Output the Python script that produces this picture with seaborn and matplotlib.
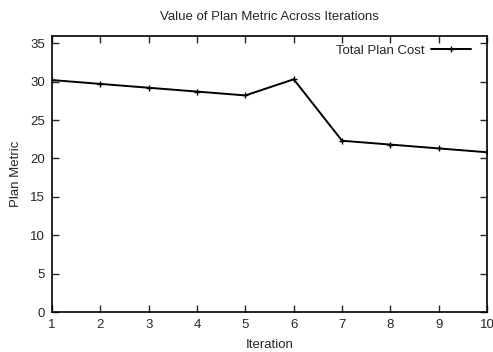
import numpy as np
import pandas as pd
import matplotlib.pyplot as plt
import seaborn as sns

iterations = [1, 2, 3, 4, 5, 6, 7, 8, 9, 10]
plan_cost = [30.2, 29.7, 29.2, 28.7, 28.2, 30.3, 22.3, 21.8, 21.3, 20.8]

df = pd.DataFrame({'Iteration': iterations, 'Total Plan Cost': plan_cost})

sns.set_style('ticks')
plt.rcParams['font.family'] = ['Liberation Sans', 'DejaVu Sans']

fig = plt.figure(figsize=(4.93, 3.52), dpi=100)
ax = fig.add_axes([0.1055, 0.1136, 0.8825, 0.7855])

sns.lineplot(data=df, x='Iteration', y='Total Plan Cost', ax=ax, color='black',
             linewidth=1.4, marker='+', markersize=5, markeredgewidth=1.0,
             markeredgecolor='black', label='Total Plan Cost')

ax.set_xlim(1, 10)
ax.set_ylim(0, 36)
ax.set_xticks(iterations)
ax.set_yticks(range(0, 36, 5))
ax.tick_params(direction='in', top=True, right=True, length=5, width=1,
               labelsize=9.5, pad=5)
for s in ax.spines.values():
    s.set_linewidth(1.2)
    s.set_color('black')

ax.set_title('Value of Plan Metric Across Iterations', fontsize=9.5, pad=11)
ax.set_xlabel('Iteration', fontsize=9.5, labelpad=6)
ax.set_ylabel('Plan Metric', fontsize=9.5, labelpad=6)

leg = ax.legend(loc='upper right', frameon=False, fontsize=9.5, markerfirst=False,
                handlelength=3.0, borderaxespad=0.3, handletextpad=0.5,
                borderpad=0.4, bbox_to_anchor=(0.984, 1.0))

plt.savefig('out.png', dpi=100)
